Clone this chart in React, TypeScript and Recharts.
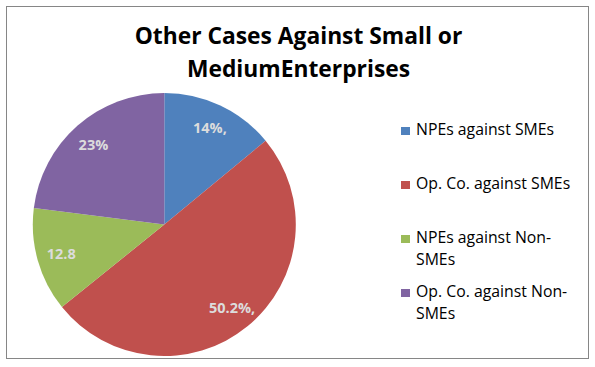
import React from 'react';
import { PieChart, Pie, Cell, Legend } from 'recharts';

const categories = [
  'NPEs against SMEs',
  'Op. Co. against SMEs',
  'NPEs against Non-SMEs',
  'Op. Co. against Non-SMEs',
];
const shares = [14, 50.2, 12.8, 23];
const labelTexts = ['14%,', '50.2%,', '12.8', '23%'];
const colors = ['#4F81BD', '#C0504D', '#9BBB59', '#8064A2'];
const titleLines = ['Other Cases Against Small or', 'MediumEnterprises'];

const data = categories.map((name, i) => ({ name, value: shares[i] }));

const FONT = '"Open Sans", Lato, sans-serif';
const RAD = Math.PI / 180;

const renderLabel = (props: any) => {
  const { cx, cy, midAngle, outerRadius, index } = props;
  const r = outerRadius * 0.815;
  const x = cx + r * Math.cos(-midAngle * RAD);
  const y = cy + r * Math.sin(-midAngle * RAD);
  return (
    <text
      x={x}
      y={y}
      fill="#dcdcdc"
      textAnchor="middle"
      dominantBaseline="central"
      fontSize={14.5}
      fontWeight="bold"
      fontFamily={FONT}
    >
      {labelTexts[index]}
    </text>
  );
};

const renderLegend = () => (
  <div style={{ fontFamily: FONT, fontSize: 15.8, color: '#000', width: 185, textAlign: 'left' }}>
    {categories.map((name, i) => (
      <div key={name} style={{ position: 'relative', height: 54, lineHeight: '22.5px', paddingLeft: 15 }}>
        <div
          style={{
            position: 'absolute',
            left: 0,
            top: 9.2,
            width: 9,
            height: 8.5,
            background: colors[i],
          }}
        />
        <div style={{ width: 162 }}>{name}</div>
      </div>
    ))}
  </div>
);

export default function App() {
  return (
    <div style={{ position: 'absolute', left: 0, top: 0, width: 595, height: 367, background: '#fff' }}>
      <div
        style={{
          position: 'absolute',
          left: 6,
          top: 6,
          width: 581,
          height: 351,
          border: '1.5px solid #868686',
        }}
      />
      <div
        style={{
          position: 'absolute',
          left: 0,
          top: 18.8,
          width: 597,
          textAlign: 'center',
          fontFamily: FONT,
          fontWeight: 'bold',
          fontSize: 22.8,
          lineHeight: '33px',
          color: '#000',
        }}
      >
        {titleLines.map((t) => (
          <div key={t}>{t}</div>
        ))}
      </div>
      <div style={{ position: 'absolute', left: 0, top: 0 }}>
        <PieChart width={595} height={367} margin={{ top: 0, right: 0, bottom: 0, left: 0 }}>
          <Pie
            data={data}
            dataKey="value"
            nameKey="name"
            cx={164.3}
            cy={224.5}
            outerRadius={131.5}
            startAngle={90}
            endAngle={-270}
            stroke="none"
            label={renderLabel}
            labelLine={false}
            isAnimationActive={false}
          >
            {data.map((d, i) => (
              <Cell key={d.name} fill={colors[i]} />
            ))}
          </Pie>
          <Legend
            layout="vertical"
            verticalAlign="middle"
            align="right"
            content={renderLegend}
            wrapperStyle={{ left: 401, top: 117.5, width: 185 }}
          />
        </PieChart>
      </div>
    </div>
  );
}
